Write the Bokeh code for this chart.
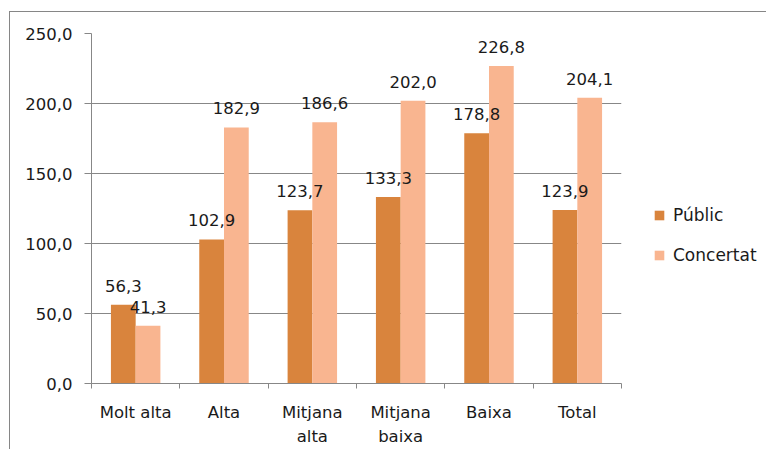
from bokeh.plotting import figure
from bokeh.models import ColumnDataSource, FixedTicker, Range1d, Legend, LegendItem, LabelSet
from bokeh.core.properties import value
from bokeh.embed import file_html
from bokeh.resources import INLINE

categories = ["Molt alta", "Alta", "Mitjana alta", "Mitjana baixa", "Baixa", "Total"]
tick_labels = ["Molt alta", "Alta", "Mitjana\nalta", "Mitjana\nbaixa", "Baixa", "Total"]
public = [56.3, 102.9, 123.7, 133.3, 178.8, 123.9]
concertat = [41.3, 182.9, 186.6, 202.0, 226.8, 204.1]
y_ticks = [0, 50, 100, 150, 200, 250]

FONT = "DejaVu Sans"
FS = "16.5px"
C_PUB = "#D9843D"
C_CON = "#F9B590"
GRID = "#878787"

n = len(categories)
centers = [i + 0.5 for i in range(n)]
bw = 0.28

def fmt(v):
    return f"{v:.1f}".replace(".", ",")

src_p = ColumnDataSource(dict(x=[c - bw / 2 for c in centers], top=public, lab=[fmt(v) for v in public]))
src_c = ColumnDataSource(dict(x=[c + bw / 2 for c in centers], top=concertat, lab=[fmt(v) for v in concertat]))

p = figure(output_backend="svg", toolbar_location=None,
           frame_width=530, frame_height=350,
           x_range=Range1d(0, n), y_range=Range1d(0, 250),
           min_border_left=81, min_border_top=21, min_border_bottom=10, min_border_right=0,
           margin=(11, 0, 0, 9))
p.styles = {"border-left": "1px solid #868686", "border-top": "1px solid #868686"}
p.outline_line_color = None
p.background_fill_color = "white"
p.border_fill_color = "white"

r1 = p.vbar(x="x", top="top", width=bw, source=src_p, fill_color=C_PUB, line_color=None)
r2 = p.vbar(x="x", top="top", width=bw, source=src_c, fill_color=C_CON, line_color=None)

for s in (src_p, src_c):
    p.add_layout(LabelSet(x="x", y="top", text="lab", source=s, text_align="center",
                          text_baseline="alphabetic", y_offset=13,
                          text_font=value(FONT), text_font_size=value(FS), text_color="#1a1a1a"))

# y axis
p.yaxis.ticker = FixedTicker(ticks=y_ticks)
p.yaxis.major_label_overrides = {t: fmt(t) for t in y_ticks}
p.yaxis.major_tick_out = 7
p.yaxis.major_tick_in = 0
p.yaxis.minor_tick_out = 0
p.yaxis.minor_tick_in = 0
p.yaxis.major_tick_line_color = GRID
p.yaxis.axis_line_color = GRID
p.yaxis.major_label_standoff = 12
p.yaxis.major_label_text_font = FONT
p.yaxis.major_label_text_font_size = FS
p.yaxis.major_label_text_color = "#1a1a1a"

# x axis
p.xaxis.ticker = FixedTicker(ticks=centers, minor_ticks=list(range(n + 1)))
p.xaxis.major_label_overrides = {c: t for c, t in zip(centers, tick_labels)}
p.xaxis.major_tick_out = 0
p.xaxis.major_tick_in = 0
p.xaxis.minor_tick_out = 5
p.xaxis.minor_tick_in = 0
p.xaxis.minor_tick_line_color = GRID
p.xaxis.axis_line_color = GRID
p.xaxis.major_label_standoff = 14
p.xaxis.major_label_text_font = FONT
p.xaxis.major_label_text_font_size = FS
p.xaxis.major_label_text_color = "#1a1a1a"
p.xaxis.major_label_text_line_height = 1.3

p.xgrid.grid_line_color = None
p.ygrid.ticker = FixedTicker(ticks=y_ticks)
p.ygrid.grid_line_color = GRID

legend = Legend(items=[LegendItem(label="Públic", renderers=[r1]),
                       LegendItem(label="Concertat", renderers=[r2])],
                location=(32, 118), orientation="vertical",
                glyph_width=12, glyph_height=12, label_standoff=8, spacing=20,
                padding=0, margin=0, border_line_color=None, background_fill_alpha=0,
                label_text_font=FONT, label_text_font_size="17px", label_text_color="#1a1a1a")
p.add_layout(legend, "right")
p.min_border_right = 0

open("out.html", "w").write(file_html(p, INLINE))
